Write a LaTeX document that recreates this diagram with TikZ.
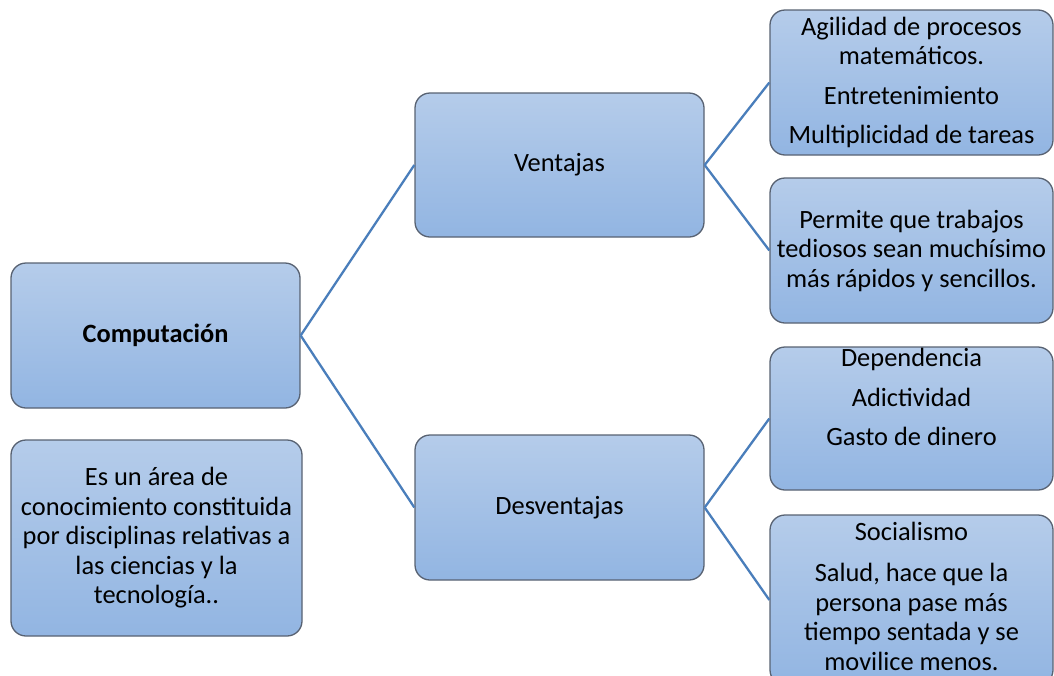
\documentclass[tikz,border=0pt]{standalone}
\usepackage{fontspec}
\setmainfont{Carlito}
\begin{document}
\begin{tikzpicture}[x=1pt,y=-1pt,
    box/.style={draw={rgb,255:red,88;green,98;blue,114},line width=1.3pt,rounded corners=15pt,
        top color={rgb,255:red,181;green,204;blue,234},bottom color={rgb,255:red,146;green,181;blue,226},
        font=\fontsize{26.4}{29.5}\selectfont,align=center,inner sep=2pt},
    boxtext/.style={font=\fontsize{26.4}{29.5}\selectfont,align=center},
    link/.style={draw={rgb,255:red,74;green,126;blue,187},line width=2.3pt}]
    \useasboundingbox(0,0)rectangle(1054,675);
    \clip(0,0)rectangle(1054,675);
    \node[box,minimum width=289pt,minimum height=145pt](comp)at(155.5,335.5){\bfseries Computación};
    \node[box,minimum width=291pt,minimum height=196pt](defn)at(156.5,538){Es un área de\\conocimiento constituida\\por disciplinas relativas a\\las ciencias y la\\tecnología..};
    \node[box,minimum width=289pt,minimum height=144pt](vent)at(559.5,165){Ventajas};
    \node[box,minimum width=289pt,minimum height=145pt](desv)at(559.5,507.5){Desventajas};
    \node[box,minimum width=283pt,minimum height=145pt](agil)at(911.5,82.5){Agilidad de procesos\\matemáticos.\\[10pt]Entretenimiento\\[10pt]Multiplicidad de tareas};
    \node[box,minimum width=283pt,minimum height=145pt](perm)at(911.5,250.5){Permite que trabajos\\tediosos sean muchísimo\\más rápidos y sencillos.};
    \node[box,minimum width=283pt,minimum height=143pt](depe)at(911.5,418.5){};
    \node[boxtext](depet)at(911.5,397){Dependencia\\[10pt]Adictividad\\[10pt]Gasto de dinero};
    \node[box,minimum width=283pt,minimum height=170pt](soci)at(911.5,600){};
    \node[boxtext](socit)at(911.5,596){Socialismo\\[12pt]Salud, hace que la\\persona pase más\\tiempo sentada y se\\movilice menos.};
    \draw[link](comp.east)--(vent.west);
    \draw[link](comp.east)--(desv.west);
    \draw[link](vent.east)--(agil.west);
    \draw[link](vent.east)--(perm.west);
    \draw[link](desv.east)--(depe.west);
    \draw[link](desv.east)--(soci.west);
\end{tikzpicture}
\end{document}
